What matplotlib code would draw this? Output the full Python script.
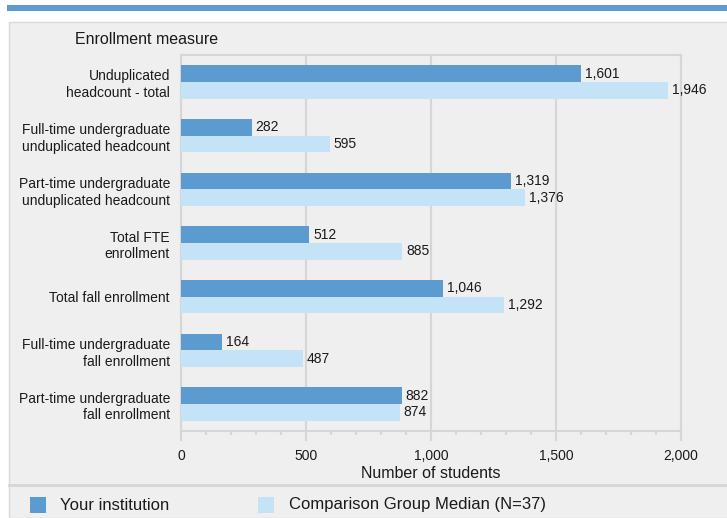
import matplotlib.pyplot as plt
from matplotlib.patches import Rectangle
from matplotlib.lines import Line2D
from matplotlib.ticker import MultipleLocator, FuncFormatter

plt.rcParams['font.family'] = ['Liberation Sans', 'DejaVu Sans']

measures = ["Unduplicated\nheadcount - total",
            "Full-time undergraduate\nunduplicated headcount",
            "Part-time undergraduate\nunduplicated headcount",
            "Total FTE\nenrollment",
            "Total fall enrollment",
            "Full-time undergraduate\nfall enrollment",
            "Part-time undergraduate\nfall enrollment"]
yours = [1601, 282, 1319, 512, 1046, 164, 882]
median = [1946, 595, 1376, 885, 1292, 487, 874]
series_names = ["Your institution", "Comparison Group Median (N=37)"]

dark = "#5b9bd0"
light = "#c5e3f6"
panel = "#efefef"
grid = "#d6d6d6"
txt = "#1a1a1a"

fig = plt.figure(figsize=(7.27, 5.18), dpi=100)
W, H = 727, 518

def fx(px):
    return px / W

def fy(py):
    return 1 - py / H

# top stripe and panel (behind the axes)
fig.patches.append(Rectangle((fx(7), fy(11)), fx(720), 6 / H, transform=fig.transFigure,
                             facecolor=dark, edgecolor='none', zorder=-10))
fig.patches.append(Rectangle((fx(9), 0), 1, fy(22), transform=fig.transFigure,
                             facecolor=panel, edgecolor="#d9d9d9", linewidth=1, zorder=-10))
fig.lines.append(Line2D([fx(9), 1], [fy(485), fy(485)], transform=fig.transFigure,
                        color=grid, linewidth=2, zorder=-5))

ax = fig.add_axes([fx(181), fy(431), fx(500), (431 - 55) / H])
ax.set_facecolor(panel)

h = 0.31
pos = list(range(len(measures)))
ax.barh([p - h / 2 for p in pos], yours, height=h, color=dark, zorder=3)
ax.barh([p + h / 2 for p in pos], median, height=h, color=light, zorder=3)
for p, a, b in zip(pos, yours, median):
    ax.annotate(f"{a:,}", (a, p - h / 2), xytext=(3, 0), textcoords='offset points',
                va='center', ha='left', fontsize=10, color=txt)
    ax.annotate(f"{b:,}", (b, p + h / 2), xytext=(3, 0), textcoords='offset points',
                va='center', ha='left', fontsize=10, color=txt)

ax.set_xlim(0, 2000)
ax.set_ylim(6.5, -0.5)
ax.set_yticks(pos)
ax.set_yticklabels(measures, fontsize=10, color=txt, linespacing=1.25)
ax.tick_params(axis='y', length=0, pad=8)
ax.xaxis.set_major_locator(MultipleLocator(500))
ax.xaxis.set_minor_locator(MultipleLocator(100))
ax.xaxis.set_major_formatter(FuncFormatter(lambda v, _: f"{int(v):,}"))
ax.tick_params(axis='x', which='major', length=7, width=1.5, color=grid,
               labelsize=10, labelcolor=txt, pad=6)
ax.tick_params(axis='x', which='minor', length=3, width=1.5, color=grid)
ax.grid(axis='x', which='major', color=grid, linewidth=1.5, zorder=0)
for s in ax.spines.values():
    s.set_color(grid)
    s.set_linewidth(1.5)
ax.set_xlabel("Number of students", fontsize=11.5, color=txt)
ax.xaxis.set_label_coords(0.5, -0.093)

fig.text(fx(75), fy(40), "Enrollment measure", fontsize=11.5, color=txt, va='center')

# legend
fig.patches.append(Rectangle((fx(30), fy(513)), fx(16), 16 / H, transform=fig.transFigure,
                             facecolor=dark, edgecolor='none'))
fig.text(fx(60), fy(505), series_names[0], fontsize=12, color=txt, va='center')
fig.patches.append(Rectangle((fx(258), fy(513)), fx(16), 16 / H, transform=fig.transFigure,
                             facecolor=light, edgecolor='none'))
fig.text(fx(289), fy(505), series_names[1], fontsize=12, color=txt, va='center')

fig.savefig("out.png", dpi=100, facecolor='white')
